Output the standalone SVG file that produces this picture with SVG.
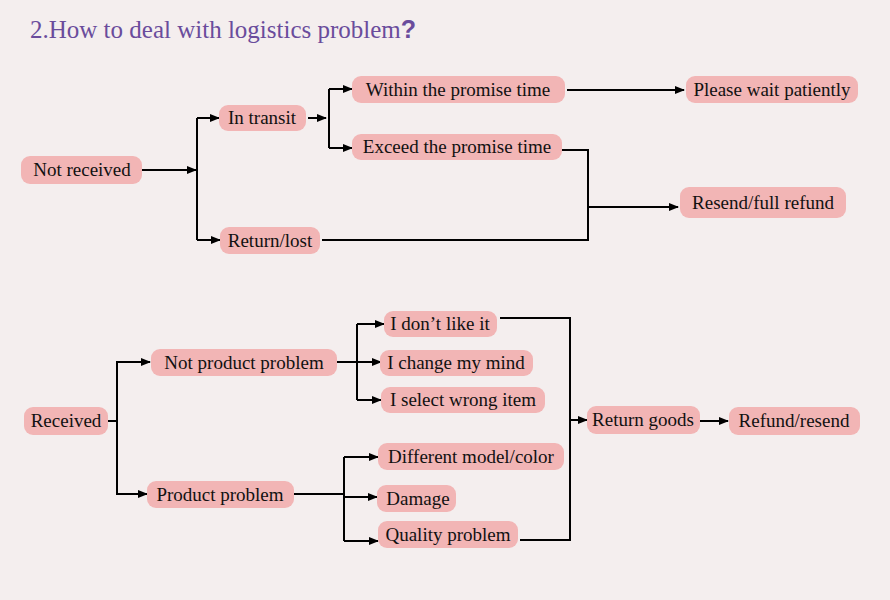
<svg xmlns="http://www.w3.org/2000/svg" width="890" height="600" viewBox="0 0 890 600">
<defs><marker id="a" markerWidth="10" markerHeight="8" refX="9" refY="4" orient="auto" markerUnits="userSpaceOnUse"><path d="M0,0L10,4L0,8z" fill="#000"/></marker>
<style>.b{fill:#f2b5b5}.t{font-family:"Liberation Serif",serif;font-size:19px;fill:#111;text-anchor:middle}.l{fill:none;stroke:#000;stroke-width:2}.r{fill:none;stroke:#000;stroke-width:2;marker-end:url(#a)}</style></defs>
<rect width="890" height="600" fill="#f4eeee"/>
<text x="30" y="38" font-family="Liberation Serif,serif" font-size="25" fill="#6a4c9c">2.How to deal with logistics problem<tspan font-family="Liberation Sans,sans-serif" font-weight="bold">?</tspan></text>
<g id="connectors">
<path class="r" d="M142,170H196"/>
<path class="l" d="M197,118V240"/>
<path class="r" d="M197,118H219"/><path class="r" d="M197,240H220"/>
<path class="r" d="M308,118H326"/>
<path class="l" d="M329,89V148"/>
<path class="r" d="M329,89H352"/><path class="r" d="M329,148H352"/>
<path class="r" d="M567,90H684"/>
<path class="l" d="M562,150H588V240H322"/>
<path class="r" d="M588,207H678"/>
<path class="r" d="M108,421H117V368M117,368V362H150"/>
<path class="r" d="M117,421V494H147"/>
<path class="l" d="M337,362H357"/>
<path class="l" d="M357,324V400"/>
<path class="r" d="M357,324H384"/><path class="r" d="M357,362H381"/><path class="r" d="M357,400H381"/>
<path class="l" d="M294,494H344"/>
<path class="l" d="M344,457V541"/>
<path class="r" d="M344,457H378"/><path class="r" d="M344,497H377"/><path class="r" d="M344,541H378"/>
<path class="l" d="M500,318H570V540H520"/>
<path class="r" d="M570,420H587"/>
<path class="r" d="M700,421H728"/>
</g>
<g id="n1"><rect class="b" x="21" y="156" width="121" height="28" rx="9"/><text class="t" x="82" y="176">Not received</text></g>
<g id="n2"><rect class="b" x="219" y="105" width="87" height="26" rx="9"/><text class="t" x="262" y="124">In transit</text></g>
<g id="n3"><rect class="b" x="220" y="227" width="100" height="27" rx="9"/><text class="t" x="270" y="247">Return/lost</text></g>
<g id="n4"><rect class="b" x="352" y="76" width="213" height="27" rx="9"/><text class="t" x="458" y="96">Within the promise time</text></g>
<g id="n5"><rect class="b" x="352" y="134" width="210" height="26" rx="9"/><text class="t" x="457" y="153">Exceed the promise time</text></g>
<g id="n6"><rect class="b" x="686" y="76" width="172" height="27" rx="9"/><text class="t" x="772" y="96">Please wait patiently</text></g>
<g id="n7"><rect class="b" x="680" y="187" width="166" height="31" rx="9"/><text class="t" x="763" y="209">Resend/full refund</text></g>
<g id="n8"><rect class="b" x="24" y="407" width="84" height="28" rx="9"/><text class="t" x="66" y="427">Received</text></g>
<g id="n9"><rect class="b" x="151" y="349" width="186" height="27" rx="9"/><text class="t" x="244" y="369">Not product problem</text></g>
<g id="n10"><rect class="b" x="147" y="481" width="147" height="27" rx="9"/><text class="t" x="220" y="501">Product problem</text></g>
<g id="n11"><rect class="b" x="384" y="311" width="113" height="26" rx="9"/><text class="t" x="440" y="330">I don’t like it</text></g>
<g id="n12"><rect class="b" x="380" y="350" width="153" height="26" rx="9"/><text class="t" x="456" y="369">I change my mind</text></g>
<g id="n13"><rect class="b" x="381" y="387" width="164" height="26" rx="9"/><text class="t" x="463" y="406">I select wrong item</text></g>
<g id="n14"><rect class="b" x="378" y="443" width="186" height="27" rx="9"/><text class="t" x="471" y="463">Different model/color</text></g>
<g id="n15"><rect class="b" x="377" y="485" width="79" height="27" rx="9"/><text class="t" x="418" y="505">Damage</text></g>
<g id="n16"><rect class="b" x="378" y="521" width="140" height="27" rx="9"/><text class="t" x="448" y="541">Quality problem</text></g>
<g id="n17"><rect class="b" x="587" y="406" width="113" height="28" rx="9"/><text class="t" x="643" y="426">Return goods</text></g>
<g id="n18"><rect class="b" x="729" y="407" width="131" height="28" rx="9"/><text class="t" x="794" y="427">Refund/resend</text></g>
</svg>
